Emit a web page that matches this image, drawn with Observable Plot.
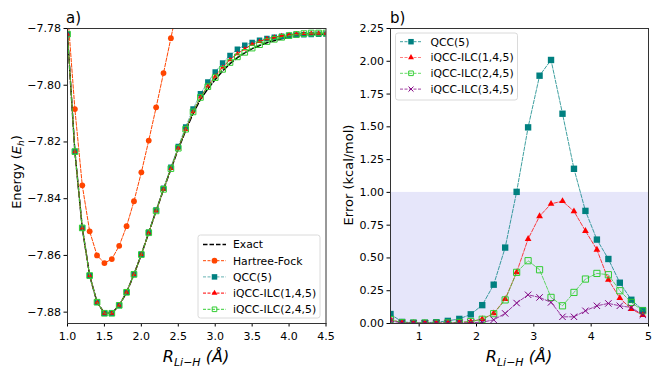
<!DOCTYPE html>
<html><head><meta charset="utf-8">
<script src="https://cdn.jsdelivr.net/npm/d3@7"></script>
<script src="https://cdn.jsdelivr.net/npm/@observablehq/plot@0.6"></script>
<style>
body{margin:0;background:#fff;}
#wrap{position:relative;width:664px;height:374px;font-family:"DejaVu Sans",sans-serif;overflow:hidden;}
#wrap svg{position:absolute;top:0;}
</style></head><body><div id="wrap"></div>
<script>
// ---------- data (left panel: energies, Eh) ----------
const rLeft = [1.0,1.1,1.2,1.3,1.4,1.5,1.6,1.7,1.8,1.9,2.0,2.1,2.2,2.3,2.4,2.5,2.6,2.7,2.8,2.9,3.0,3.1,3.2,3.3,3.4,3.5,3.6,3.7,3.8,3.9,4.0,4.1,4.2,4.3,4.4,4.5];
const eExact = [-7.7820,-7.8234,-7.8503,-7.8671,-7.8765,-7.8804,-7.8804,-7.8776,-7.8730,-7.8667,-7.8597,-7.8520,-7.8443,-7.8368,-7.8296,-7.8225,-7.8160,-7.8100,-7.8050,-7.8013,-7.7980,-7.7950,-7.7924,-7.7903,-7.7886,-7.7871,-7.7860,-7.7850,-7.7843,-7.7836,-7.7831,-7.7827,-7.7824,-7.7822,-7.7821,-7.7820];
const rHF = [1.0,1.1,1.2,1.3,1.4,1.5,1.6,1.7,1.8,1.9,2.0,2.1,2.2,2.3,2.4,2.5];
const eHF = [-7.7737,-7.8084,-7.8353,-7.8515,-7.8600,-7.8627,-7.8613,-7.8566,-7.8497,-7.8409,-7.8307,-7.8195,-7.8078,-7.7957,-7.7834,-7.7710];
const eQCC = [-7.7819,-7.8234,-7.8503,-7.8671,-7.8765,-7.8804,-7.8804,-7.8776,-7.8730,-7.8666,-7.8596,-7.8518,-7.8440,-7.8363,-7.8289,-7.8216,-7.8147,-7.8084,-7.8030,-7.7989,-7.7953,-7.7922,-7.7895,-7.7873,-7.7859,-7.7849,-7.7841,-7.7835,-7.7831,-7.7827,-7.7825,-7.7823,-7.7822,-7.7821,-7.7820,-7.7819];
const eILC145 = [-7.7820,-7.8234,-7.8503,-7.8671,-7.8765,-7.8804,-7.8804,-7.8776,-7.8730,-7.8667,-7.8597,-7.8520,-7.8443,-7.8367,-7.8294,-7.8222,-7.8156,-7.8094,-7.8042,-7.8003,-7.7968,-7.7937,-7.7910,-7.7889,-7.7872,-7.7856,-7.7846,-7.7836,-7.7831,-7.7825,-7.7822,-7.7819,-7.7818,-7.7817,-7.7817,-7.7817];
const eILC245 = [-7.7820,-7.8234,-7.8503,-7.8671,-7.8765,-7.8804,-7.8804,-7.8776,-7.8730,-7.8667,-7.8597,-7.8520,-7.8443,-7.8367,-7.8294,-7.8222,-7.8155,-7.8094,-7.8043,-7.8005,-7.7973,-7.7944,-7.7920,-7.7900,-7.7884,-7.7869,-7.7857,-7.7846,-7.7838,-7.7831,-7.7825,-7.7821,-7.7818,-7.7816,-7.7816,-7.7816];
const xTicksLeft = [1.0,1.5,2.0,2.5,3.0,3.5,4.0,4.5];
const yTicksLeft = [-7.88,-7.86,-7.84,-7.82,-7.80,-7.78];

// ---------- data (right panel: errors, kcal/mol) ----------
const rRight = [0.5,0.7,0.9,1.1,1.3,1.5,1.7,1.9,2.1,2.3,2.5,2.7,2.9,3.1,3.3,3.5,3.7,3.9,4.1,4.3,4.5,4.7,4.9];
const errQCC = [0.072,0.012,0.006,0.006,0.010,0.020,0.035,0.070,0.140,0.296,0.579,1.004,1.496,1.890,2.010,1.600,1.180,0.859,0.640,0.492,0.311,0.181,0.102];
const errILC145 = [0.030,0.006,0.003,0.003,0.003,0.004,0.008,0.015,0.034,0.077,0.186,0.390,0.645,0.818,0.913,0.933,0.856,0.706,0.563,0.334,0.194,0.110,0.064];
const errILC245 = [0.030,0.006,0.003,0.003,0.003,0.004,0.008,0.015,0.032,0.075,0.180,0.390,0.479,0.410,0.199,0.135,0.237,0.339,0.382,0.372,0.250,0.161,0.097];
const errILC345 = [0.020,0.004,0.002,0.002,0.002,0.003,0.004,0.006,0.010,0.028,0.077,0.156,0.219,0.199,0.161,0.051,0.051,0.097,0.135,0.153,0.135,0.122,0.066];
const accuracyBand = [0, 1];
const xTicksRight = [1,2,3,4,5];
const yTicksRight = [0,0.25,0.5,0.75,1.0,1.25,1.5,1.75,2.0,2.25];

// ---------- build tables ----------
const leftRows = rLeft.map((r,i)=>({r, exact:eExact[i], qcc:eQCC[i], ilc145:eILC145[i], ilc245:eILC245[i]}));
const hfRows = rHF.map((r,i)=>({r, e:eHF[i]}));
const rightRows = rRight.map((r,i)=>({r, qcc:errQCC[i], ilc145:errILC145[i], ilc245:errILC245[i], ilc345:errILC345[i]}));

const C = {exact:"#000000", hf:"#ff4500", qcc:"#008080", ilc145:"#ff0000", ilc245:"#32cd32", ilc345:"#800080"};
const FONT = "DejaVu Sans, sans-serif";
const wrap = document.getElementById("wrap");

// ---------- left panel ----------
const left = Plot.plot({
  width: 332, height: 374,
  marginLeft: 67, marginRight: 6.5, marginTop: 28, marginBottom: 51,
  style: {fontFamily: FONT, fontSize: "11px", color: "#000", background: "transparent", overflow: "visible"},
  x: {domain: [1.0, 4.5], ticks: xTicksLeft, tickFormat: d3.format(".1f"), label: null, tickSize: 3.5, tickPadding: 5},
  y: {domain: [-7.884, -7.78], ticks: yTicksLeft, tickFormat: d3.format(".2f"), label: null, tickSize: 3.5, tickPadding: 3},
  marks: [
    Plot.line(leftRows, {x:"r", y:"exact", stroke:C.exact, strokeWidth:1.5, strokeDasharray:"5.5,2.4", clip:true}),
    Plot.line(hfRows, {x:"r", y:"e", stroke:C.hf, strokeWidth:1, strokeDasharray:"3.7,1.6", clip:true}),
    Plot.dot(hfRows, {x:"r", y:"e", r:2.9, fill:C.hf, symbol:"circle", clip:true}),
    Plot.line(leftRows, {x:"r", y:"qcc", stroke:C.qcc, strokeOpacity:0.6, strokeWidth:1, strokeDasharray:"3.7,1.6", clip:true}),
    Plot.dot(leftRows, {x:"r", y:"qcc", r:3.1, fill:C.qcc, symbol:"square", clip:true}),
    Plot.line(leftRows, {x:"r", y:"ilc145", stroke:C.ilc145, strokeWidth:1, strokeDasharray:"3.7,1.6", clip:true}),
    Plot.dot(leftRows, {x:"r", y:"ilc145", r:1.9, fill:C.ilc145, symbol:"triangle", clip:true}),
    Plot.line(leftRows, {x:"r", y:"ilc245", stroke:C.ilc245, strokeWidth:1, strokeDasharray:"3.7,1.6", clip:true}),
    Plot.dot(leftRows, {x:"r", y:"ilc245", r:3.2, fill:"none", stroke:C.ilc245, strokeWidth:1, symbol:"square", clip:true}),
    Plot.frame({stroke:"#333", strokeWidth:1})
  ]
});
left.style.left = "0px";
wrap.appendChild(left);

// ---------- right panel ----------
const right = Plot.plot({
  width: 332, height: 374,
  marginLeft: 58, marginRight: 16, marginTop: 28, marginBottom: 51,
  style: {fontFamily: FONT, fontSize: "11px", color: "#000", background: "transparent", overflow: "visible"},
  x: {domain: [0.5, 5], ticks: xTicksRight, tickFormat: d3.format("d"), label: null, tickSize: 3.5, tickPadding: 5},
  y: {domain: [0, 2.25], ticks: yTicksRight, tickFormat: d3.format(".2f"), label: null, tickSize: 3.5, tickPadding: 3},
  marks: [
    Plot.rect([accuracyBand], {y1: d=>d[0], y2: d=>d[1], fill:"#e6e6fa"}),
    Plot.line(rightRows, {x:"r", y:"qcc", stroke:C.qcc, strokeOpacity:0.75, strokeWidth:1, strokeDasharray:"3.7,1.6", clip:true}),
    Plot.dot(rightRows, {x:"r", y:"qcc", r:3.6, fill:C.qcc, symbol:"square", clip:true}),
    Plot.line(rightRows, {x:"r", y:"ilc145", stroke:C.ilc145, strokeOpacity:0.75, strokeWidth:1, strokeDasharray:"3.7,1.6", clip:true}),
    Plot.dot(rightRows, {x:"r", y:"ilc145", r:2.5, fill:C.ilc145, symbol:"triangle", clip:true}),
    Plot.line(rightRows, {x:"r", y:"ilc245", stroke:C.ilc245, strokeOpacity:0.75, strokeWidth:1, strokeDasharray:"3.7,1.6", clip:true}),
    Plot.dot(rightRows, {x:"r", y:"ilc245", r:3.5, fill:"none", stroke:C.ilc245, strokeWidth:1, symbol:"square", clip:true}),
    Plot.line(rightRows, {x:"r", y:"ilc345", stroke:C.ilc345, strokeOpacity:0.75, strokeWidth:1, strokeDasharray:"3.7,1.6", clip:true}),
    Plot.dot(rightRows, {x:"r", y:"ilc345", r:3.0, stroke:C.ilc345, strokeWidth:1, symbol:"times", clip:true}),
    Plot.frame({stroke:"#333", strokeWidth:1})
  ]
});
right.style.left = "332px";
wrap.appendChild(right);

// ---------- decorations (titles, axis labels, legends) ----------
function sym(type, r){ return d3.symbol(type, r*r*Math.PI)(); }

function legend(svg, box, items){
  const g = d3.select(svg).append("g").attr("font-family", FONT).attr("font-size", "10.8px").attr("text-anchor", "start");
  g.append("rect").attr("x", box.x).attr("y", box.y).attr("width", box.w).attr("height", box.h)
    .attr("rx", 2.5).attr("fill", "#fff").attr("fill-opacity", 0.8).attr("stroke", "#d0d0d0").attr("stroke-width", 0.8);
  items.forEach((it, i) => {
    const y = box.row0 + i*box.dy;
    g.append("line").attr("x1", box.lx1).attr("x2", box.lx2).attr("y1", y).attr("y2", y)
      .attr("stroke", it.color).attr("stroke-opacity", it.op ?? 1).attr("stroke-width", it.w ?? 1).attr("stroke-dasharray", it.dash);
    if (it.symbol) {
      const p = g.append("path").attr("d", sym(it.symbol, it.r)).attr("transform", `translate(${(box.lx1+box.lx2)/2},${y})`);
      if (it.open || it.symbol === d3.symbolTimes) p.attr("fill", "none").attr("stroke", it.color).attr("stroke-width", 1);
      else p.attr("fill", it.color);
    }
    g.append("text").attr("x", box.tx).attr("y", y).attr("dy", "0.36em").attr("text-anchor", "start").text(it.label);
  });
}

legend(left, {x:198, y:235, w:122, h:83, row0:244.5, dy:16.2, lx1:203, lx2:226, tx:233}, [
  {label:"Exact", color:C.exact, dash:"4.5,2", w:1.5},
  {label:"Hartree-Fock", color:C.hf, dash:"3,1.5", symbol:d3.symbolCircle, r:2.9},
  {label:"QCC(5)", color:C.qcc, dash:"3,1.5", op:0.6, symbol:d3.symbolSquare, r:3.1},
  {label:"iQCC-ILC(1,4,5)", color:C.ilc145, dash:"3,1.5", symbol:d3.symbolTriangle, r:2.2},
  {label:"iQCC-ILC(2,4,5)", color:C.ilc245, dash:"3,1.5", symbol:d3.symbolSquare, r:2.6, open:true}
]);

legend(right, {x:63.5, y:33, w:122, h:67, row0:41.7, dy:15.8, lx1:68, lx2:90, tx:98.5}, [
  {label:"QCC(5)", color:C.qcc, dash:"3,1.5", op:0.75, symbol:d3.symbolSquare, r:3.1},
  {label:"iQCC-ILC(1,4,5)", color:C.ilc145, dash:"3,1.5", op:0.5, symbol:d3.symbolTriangle, r:2.2},
  {label:"iQCC-ILC(2,4,5)", color:C.ilc245, dash:"3,1.5", op:0.75, symbol:d3.symbolSquare, r:2.6, open:true},
  {label:"iQCC-ILC(3,4,5)", color:C.ilc345, dash:"3,1.5", op:0.75, symbol:d3.symbolTimes, r:2.4}
]);

function title(svg, x, txt){
  d3.select(svg).append("text").attr("x", x).attr("y", 23).attr("font-family", FONT)
    .attr("text-anchor", "start").attr("font-size", "15px").text(txt);
}
title(left, 66, "a)");
title(right, 58, "b)");

function xLabel(svg, cx){
  const t = d3.select(svg).append("text").attr("x", cx).attr("y", 362).attr("text-anchor", "middle")
    .attr("font-family", FONT).attr("font-size", "16px").attr("font-style", "italic");
  t.append("tspan").text("R");
  t.append("tspan").attr("font-size", "11px").attr("dy", "3.5").text("Li\u2212H");
  t.append("tspan").attr("dy", "-3.5").text("\u00a0(\u00c5)");
}
xLabel(left, 196);
xLabel(right, 187);

function yLabel(svg, x, cy, build){
  const t = d3.select(svg).append("text").attr("transform", `translate(${x},${cy}) rotate(-90)`)
    .attr("text-anchor", "middle").attr("font-family", FONT).attr("font-size", "13px");
  build(t);
}
yLabel(left, 21, 172, t => {
  t.append("tspan").text("Energy (");
  t.append("tspan").attr("font-style", "italic").text("E");
  t.append("tspan").attr("font-style", "italic").attr("font-size", "9px").attr("dy", "3").text("h");
  t.append("tspan").attr("dy", "-3").text(")");
});
yLabel(right, 21, 175, t => { t.text("Error (kcal/mol)"); });
</script>
</body></html>
